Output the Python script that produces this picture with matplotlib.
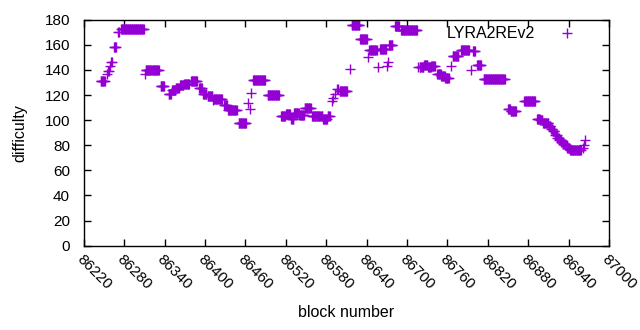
import numpy as np
import matplotlib
matplotlib.use("Agg")
import matplotlib.pyplot as plt

plt.rcParams['font.family'] = ['Liberation Sans', 'DejaVu Sans']

# Runs of constant difficulty: (first block, last block, difficulty)
run_start = [86245, 86254, 86256, 86259, 86261, 86265, 86271, 86275, 86311, 86312,
             86334, 86346, 86351, 86357, 86363, 86369, 86379, 86391, 86397, 86404,
             86412, 86413, 86428, 86434, 86450, 86464, 86467, 86469, 86471, 86493,
             86513, 86520, 86528, 86532, 86540, 86548, 86559, 86575, 86582, 86588,
             86590, 86593, 86596, 86600, 86615, 86618, 86630, 86642, 86644, 86657,
             86660, 86670, 86672, 86673, 86682, 86691, 86717, 86719, 86725, 86731,
             86736, 86745, 86751, 86757, 86765, 86768, 86780, 86795, 86798, 86804,
             86814, 86850, 86854, 86874, 86893, 86898, 86902, 86911, 86914, 86917,
             86920, 86923, 86926, 86929, 86932, 86935, 86938, 86942, 86961, 86963,
             86965]
run_end = [86251, 86254, 86257, 86259, 86262, 86268, 86272, 86309, 86311, 86331,
           86339, 86349, 86356, 86361, 86368, 86376, 86388, 86395, 86402, 86411,
           86412, 86425, 86432, 86447, 86461, 86464, 86467, 86469, 86489, 86510,
           86519, 86526, 86531, 86539, 86547, 86557, 86574, 86581, 86585, 86588,
           86590, 86593, 86597, 86611, 86615, 86629, 86640, 86642, 86655, 86657,
           86669, 86670, 86672, 86678, 86688, 86715, 86717, 86724, 86730, 86735,
           86741, 86750, 86756, 86762, 86765, 86776, 86792, 86795, 86801, 86810,
           86845, 86853, 86862, 86890, 86897, 86901, 86910, 86913, 86916, 86919,
           86922, 86925, 86928, 86931, 86934, 86937, 86941, 86958, 86961, 86963,
           86965]
run_value = [131, 137, 139, 143, 146, 158, 170, 173, 137, 140,
             127, 121, 124, 126, 128, 129, 131, 126, 121, 119,
             116, 117, 112, 108, 98, 114, 109, 122, 132, 120,
             103, 105, 101, 106, 104, 110, 103, 101, 103, 115,
             118, 121, 125, 123, 141, 176, 165, 150, 156, 142,
             157, 143, 146, 160, 175, 172, 142, 142, 144, 142,
             143, 137, 135, 134, 143, 151, 156, 140, 155, 144,
             133, 109, 107, 115, 101, 100, 98, 95, 93, 91,
             88, 86, 84, 83, 81, 80, 78, 76, 78, 80,
             84]

x_ticks = list(range(86220, 87001, 60))
y_ticks = list(range(0, 181, 20))

blocks = []
diffs = []
for s, e, v in zip(run_start, run_end, run_value):
    for b in range(s, e + 1):
        blocks.append(b)
        diffs.append(v)

color = '#9400D3'
fig = plt.figure(figsize=(6.4, 3.3), dpi=100)
ax = fig.add_axes([0.131, 0.2555, 0.8206, 0.6845])
ax.plot(blocks, diffs, linestyle='none', marker='+', markersize=7,
        markeredgewidth=1.0, color=color, label='LYRA2REv2')

ax.set_xlim(86220, 87000)
ax.set_ylim(0, 180)
ax.set_xticks(x_ticks)
ax.set_yticks(y_ticks)
ax.set_xticklabels([str(t) for t in x_ticks], rotation=-45, ha='left',
                   va='top', rotation_mode='anchor')
ax.tick_params(direction='in', top=True, right=True, length=5, width=1,
               labelsize=11, colors='black')
ax.tick_params(axis='x', pad=5)
ax.tick_params(axis='y', pad=10)
for sp in ax.spines.values():
    sp.set_linewidth(1)
ax.set_xlabel('block number', fontsize=11.5, labelpad=9)
ax.set_ylabel('difficulty', fontsize=11.5, labelpad=12)

leg = ax.legend(loc='upper right', frameon=False, markerfirst=False,
                fontsize=11.5, handlelength=2.5, handletextpad=0.8,
                bbox_to_anchor=(0.98, 1.02), borderaxespad=0.3)

fig.savefig('out.png', dpi=100)
